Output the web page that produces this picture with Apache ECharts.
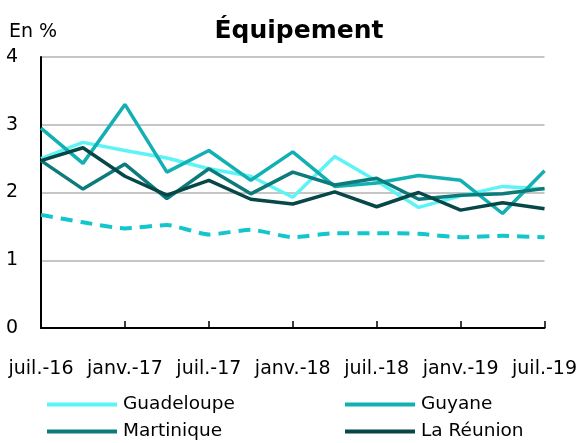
<!DOCTYPE html>
<html lang="fr" style="height: 100%">
<head>
  <meta charset="utf-8">
</head>
<body style="height: 100%; margin: 0; background: #fff">
  <div id="container" style="width: 580px; height: 443px"></div>

  <script type="text/javascript" src="https://cdn.jsdelivr.net/npm/echarts@6/dist/echarts.min.js"></script>

  <script type="text/javascript">
    var categories = ['juil.-16', 'oct.-16', 'janv.-17', 'avr.-17', 'juil.-17', 'oct.-17', 'janv.-18',
      'avr.-18', 'juil.-18', 'oct.-18', 'janv.-19', 'avr.-19', 'juil.-19'];

    var guadeloupe = [2.50, 2.74, 2.62, 2.51, 2.35, 2.24, 1.93, 2.53, 2.17, 1.78, 1.95, 2.09, 2.05];
    var guyane = [2.95, 2.43, 3.30, 2.30, 2.62, 2.18, 2.60, 2.09, 2.14, 2.25, 2.18, 1.69, 2.32];
    var martinique = [2.47, 2.05, 2.42, 1.91, 2.35, 1.98, 2.30, 2.11, 2.21, 1.90, 1.96, 1.98, 2.06];
    var reunion = [2.47, 2.66, 2.24, 1.96, 2.18, 1.90, 1.83, 2.01, 1.79, 2.00, 1.74, 1.85, 1.76];
    var ensemble = [1.67, 1.56, 1.47, 1.52, 1.38, 1.45, 1.34, 1.40, 1.40, 1.39, 1.34, 1.36, 1.34];

    var yTicks = [0, 1, 2, 3, 4];

    var font = 'DejaVu Sans';
    var dom = document.getElementById('container');
    var myChart = echarts.init(dom, null, { renderer: 'canvas' });

    function legendAt(name, left, top) {
      return {
        data: [name],
        left: left,
        top: top,
        icon: 'rect',
        itemWidth: 70,
        itemHeight: 4,
        itemGap: 0,
        padding: 0,
        textStyle: { fontFamily: font, fontSize: 18.5, color: '#000', padding: [0, 0, 0, 1] }
      };
    }

    function lineSeries(name, data, color) {
      return {
        name: name,
        type: 'line',
        data: data,
        symbol: 'none',
        lineStyle: { color: color, width: 3.5 },
        itemStyle: { color: color }
      };
    }

    var option = {
      animation: false,
      title: [
        {
          text: 'Équipement',
          left: 294,
          top: 14,
          textAlign: 'center',
          textStyle: { fontFamily: font, fontSize: 25, fontWeight: 'bold', color: '#000' }
        },
        {
          text: 'En %',
          left: 4,
          top: 18,
          textStyle: { fontFamily: font, fontSize: 19, fontWeight: 'normal', color: '#000' }
        }
      ],
      legend: [
        legendAt('Guadeloupe', 47, 395),
        legendAt('Guyane', 345, 395),
        legendAt('Martinique', 47, 422),
        legendAt('La Réunion', 345, 422)
      ],
      grid: { left: 41, right: 33, top: 57, bottom: 115 },
      xAxis: {
        type: 'category',
        data: categories,
        boundaryGap: false,
        axisLine: { lineStyle: { color: '#000', width: 2 } },
        axisTick: { show: true, inside: true, interval: 1, length: 7, lineStyle: { color: '#000', width: 1.5 } },
        axisLabel: {
          interval: 1,
          margin: 32,
          fontFamily: font,
          fontSize: 19,
          color: '#000'
        }
      },
      yAxis: {
        type: 'value',
        min: yTicks[0],
        max: yTicks[yTicks.length - 1],
        interval: 1,
        axisLine: { show: true, lineStyle: { color: '#000', width: 2 } },
        axisTick: { show: false },
        axisLabel: { fontFamily: font, fontSize: 19, color: '#000', margin: 35, align: 'left' },
        splitLine: { lineStyle: { color: '#c6c6c6', width: 2 } }
      },
      series: [
        lineSeries('Guadeloupe', guadeloupe, '#5cf4f6'),
        lineSeries('Guyane', guyane, '#13b0b3'),
        lineSeries('Martinique', martinique, '#0d7b7c'),
        lineSeries('La Réunion', reunion, '#074747'),
        {
          name: 'Ensemble',
          type: 'line',
          data: ensemble,
          symbol: 'none',
          smooth: 0.2,
          lineStyle: { color: '#12c6cb', width: 4, type: [12, 8] },
          itemStyle: { color: '#12c6cb' }
        }
      ]
    };

    myChart.setOption(option);
    window.addEventListener('resize', myChart.resize);
  </script>
</body>
</html>
